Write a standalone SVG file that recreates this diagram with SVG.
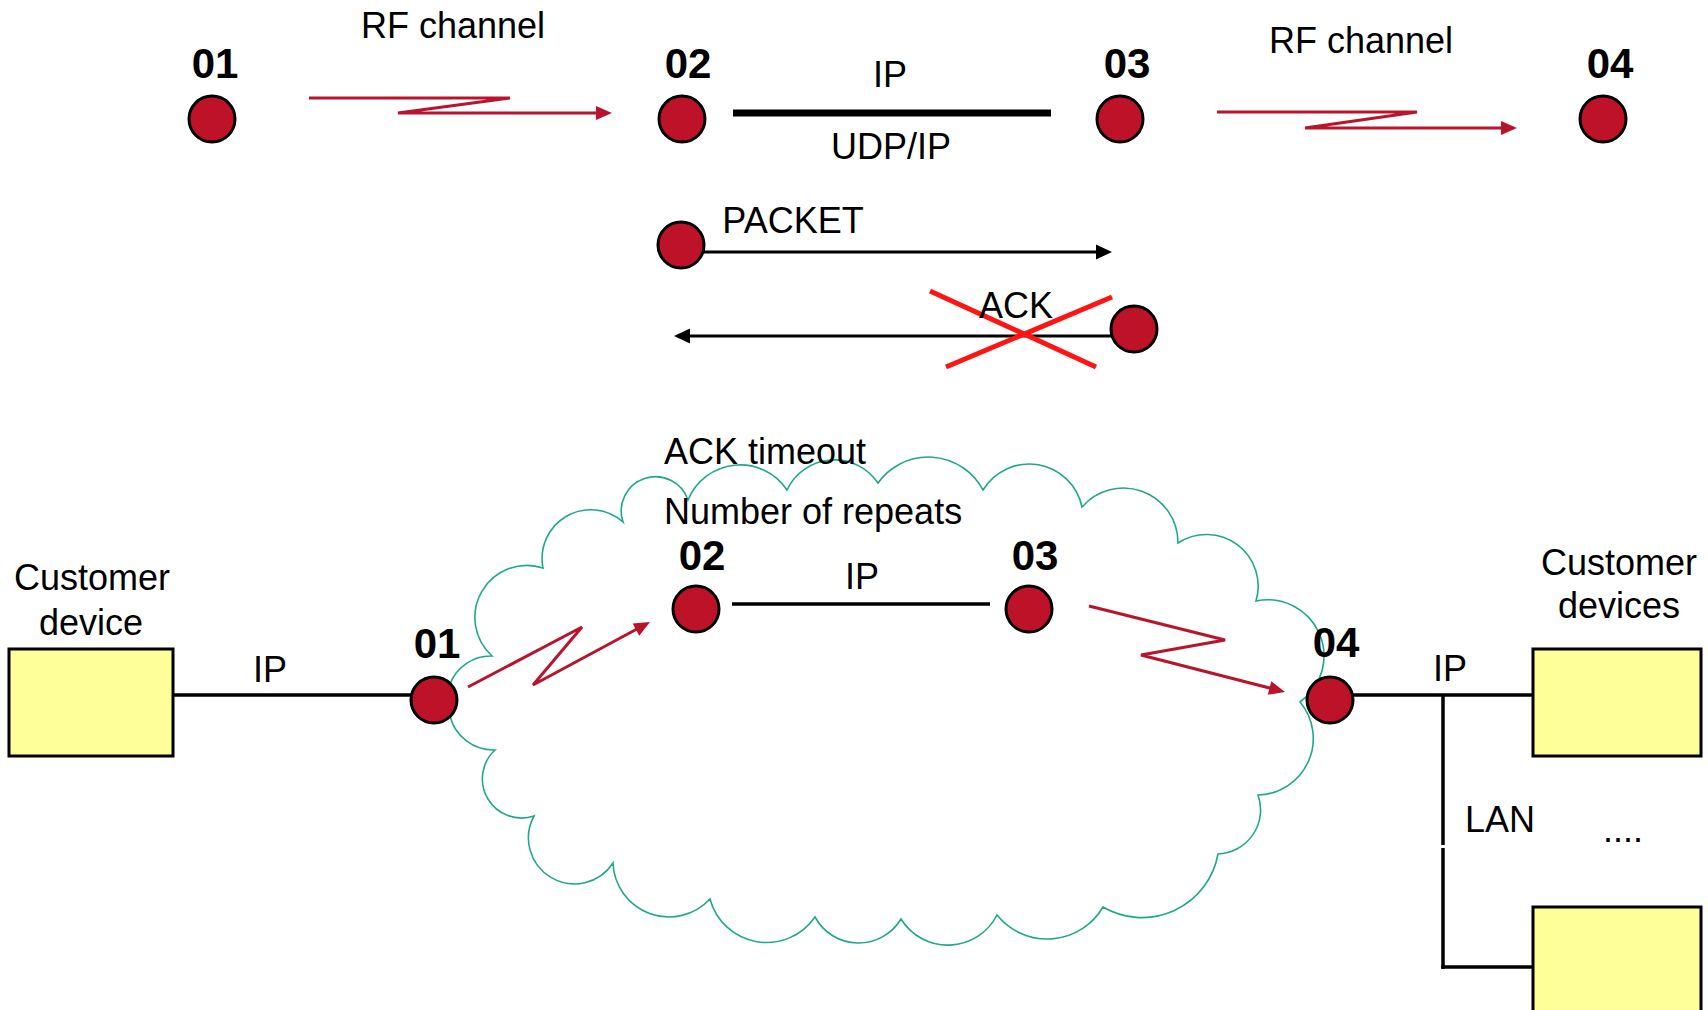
<svg xmlns="http://www.w3.org/2000/svg" width="1708" height="1010" viewBox="0 0 1708 1010">
<style>
  .bg { fill: #ffffff; }
  .node { fill: #BE1229; stroke: #000000; stroke-width: 3; }
  .num { font-family: "Liberation Sans", Arial, sans-serif; font-weight: bold; font-size: 42px; fill: #000; text-anchor: middle; }
  .lbl { font-family: "Liberation Sans", Arial, sans-serif; font-size: 36px; fill: #000; }
  .mid { text-anchor: middle; }
  .rf { fill: none; stroke: #B8142B; stroke-width: 3; stroke-linejoin: miter; }
  .blk { fill: none; stroke: #000; stroke-width: 3; }
  .wire { fill: none; stroke: #000; stroke-width: 3.5; }
  .thick { fill: none; stroke: #000; stroke-width: 7; }
  .cross { fill: none; stroke: #FF1414; stroke-width: 5; }
  .box { fill: #FFFF99; stroke: #000; stroke-width: 3; }
  .cloud { fill: none; stroke: #1FA98A; stroke-width: 1.6; }
</style>
<defs>
  <marker id="arrRed" markerUnits="userSpaceOnUse" markerWidth="20" markerHeight="20" refX="8" refY="7" orient="auto" overflow="visible">
    <path d="M0,0 L16,7 L0,14 z" fill="#B8142B"/>
  </marker>
  <marker id="arrBlk" markerUnits="userSpaceOnUse" markerWidth="20" markerHeight="20" refX="8" refY="7.5" orient="auto" overflow="visible">
    <path d="M0,0 L16,7.5 L0,15 z" fill="#000"/>
  </marker>
</defs>
<rect class="bg" x="0" y="0" width="1708" height="1010"/>

<g id="cloud">
  <path class="cloud" d="M450,684
    A43.8,43.8 0 0 1 492,656
    A52,52 0 0 1 543,568
    A48.7,48.7 0 0 1 623,522
    A33.4,33.4 0 0 1 688,500
    A56.3,56.3 0 0 1 787,490
    A52.5,52.5 0 0 1 878,483
    A61.8,61.8 0 0 1 983,490
    A54,54 0 0 1 1082,507
    A54.6,54.6 0 0 1 1178,543
    A51.7,51.7 0 0 1 1256,601
    A56.2,56.2 0 0 1 1300,702
    A56.6,56.6 0 0 1 1258,795
    A44.2,44.2 0 0 1 1218,854
    A77.2,77.2 0 0 1 1103,907
    A64.5,64.5 0 0 1 997,915
    A55.1,55.1 0 0 1 901,919
    A49.5,49.5 0 0 1 815,917
    A58.6,58.6 0 0 1 710,899
    A56,56 0 0 1 613,863
    A46,46 0 0 1 534,816
    A39.2,39.2 0 0 1 495,750
    A44.8,44.8 0 0 1 450,716 Z"/>
</g>

<g id="connectors">
  <path class="rf" d="M309,98 L510,98 L398,113 L604,113" marker-end="url(#arrRed)"/>
  <line class="thick" x1="733" y1="113" x2="1051" y2="113"/>
  <path class="rf" d="M1217,112 L1417,112 L1305,128 L1509,128" marker-end="url(#arrRed)"/>
  <path class="blk" d="M703,252 L1104,252" marker-end="url(#arrBlk)"/>
  <path class="blk" d="M1113,336 L682,336" marker-end="url(#arrBlk)"/>
  <line class="cross" x1="930" y1="291" x2="1096" y2="367"/>
  <line class="cross" x1="946" y1="367" x2="1112" y2="297"/>
  <line class="wire" x1="173" y1="695" x2="420" y2="695"/>
  <path class="rf" d="M468,687 L582,627 L533,685 L643,625.8" marker-end="url(#arrRed)"/>
  <line class="wire" x1="732" y1="604" x2="990" y2="604"/>
  <path class="rf" d="M1089,606 L1225,640 L1141,655 L1277.3,690" marker-end="url(#arrRed)"/>
  <line class="wire" x1="1345" y1="695" x2="1533" y2="695"/>
  <line class="wire" x1="1443" y1="695" x2="1443" y2="845"/>
  <line class="wire" x1="1443" y1="848" x2="1443" y2="968.75"/>
  <line class="wire" x1="1441.25" y1="967" x2="1533" y2="967"/>
</g>

<g id="top-01"><text class="num" x="215" y="78">01</text><circle class="node" cx="212" cy="119" r="23"/></g>
<g id="top-02"><text class="num" x="688" y="78">02</text><circle class="node" cx="682" cy="119" r="23"/></g>
<g id="top-03"><text class="num" x="1127" y="78">03</text><circle class="node" cx="1120" cy="119" r="23"/></g>
<g id="top-04"><text class="num" x="1610" y="78">04</text><circle class="node" cx="1603" cy="119" r="23"/></g>

<g id="top-labels">
  <text class="lbl mid" x="453" y="38">RF channel</text>
  <text class="lbl mid" x="890" y="87">IP</text>
  <text class="lbl mid" x="891" y="159">UDP/IP</text>
  <text class="lbl mid" x="1361" y="53">RF channel</text>
</g>

<g id="packet-node"><circle class="node" cx="681" cy="245" r="23"/><text class="lbl mid" x="793" y="233">PACKET</text></g>
<g id="ack-node"><text class="lbl mid" x="1016" y="318">ACK</text><circle class="node" cx="1134" cy="329" r="23"/></g>

<g id="cloud-labels">
  <text class="lbl" x="664" y="464">ACK timeout</text>
  <text class="lbl" x="664" y="524">Number of repeats</text>
</g>

<g id="customer-device">
  <text class="lbl mid" x="92" y="590">Customer</text>
  <text class="lbl mid" x="91" y="635">device</text>
  <rect class="box" x="9" y="649" width="164" height="107"/>
  <text class="lbl mid" x="270" y="682">IP</text>
</g>

<g id="bottom-01"><text class="num" x="437" y="658">01</text><circle class="node" cx="434" cy="700" r="23"/></g>
<g id="bottom-02"><text class="num" x="702" y="570">02</text><circle class="node" cx="696" cy="609" r="23"/></g>
<g id="bottom-03"><text class="num" x="1035" y="570">03</text><circle class="node" cx="1029" cy="609" r="23"/></g>
<g id="bottom-ip"><text class="lbl mid" x="862" y="589">IP</text></g>
<g id="bottom-04"><text class="num" x="1336" y="657">04</text><circle class="node" cx="1330" cy="700" r="23"/></g>

<g id="customer-devices">
  <text class="lbl mid" x="1619" y="575">Customer</text>
  <text class="lbl mid" x="1619" y="618">devices</text>
  <rect class="box" x="1533" y="649" width="168" height="107"/>
  <rect class="box" x="1533" y="907" width="168" height="115"/>
  <text class="lbl mid" x="1450" y="681">IP</text>
  <text class="lbl" x="1465" y="832">LAN</text>
  <text class="lbl" x="1603" y="842">....</text>
</g>
</svg>
